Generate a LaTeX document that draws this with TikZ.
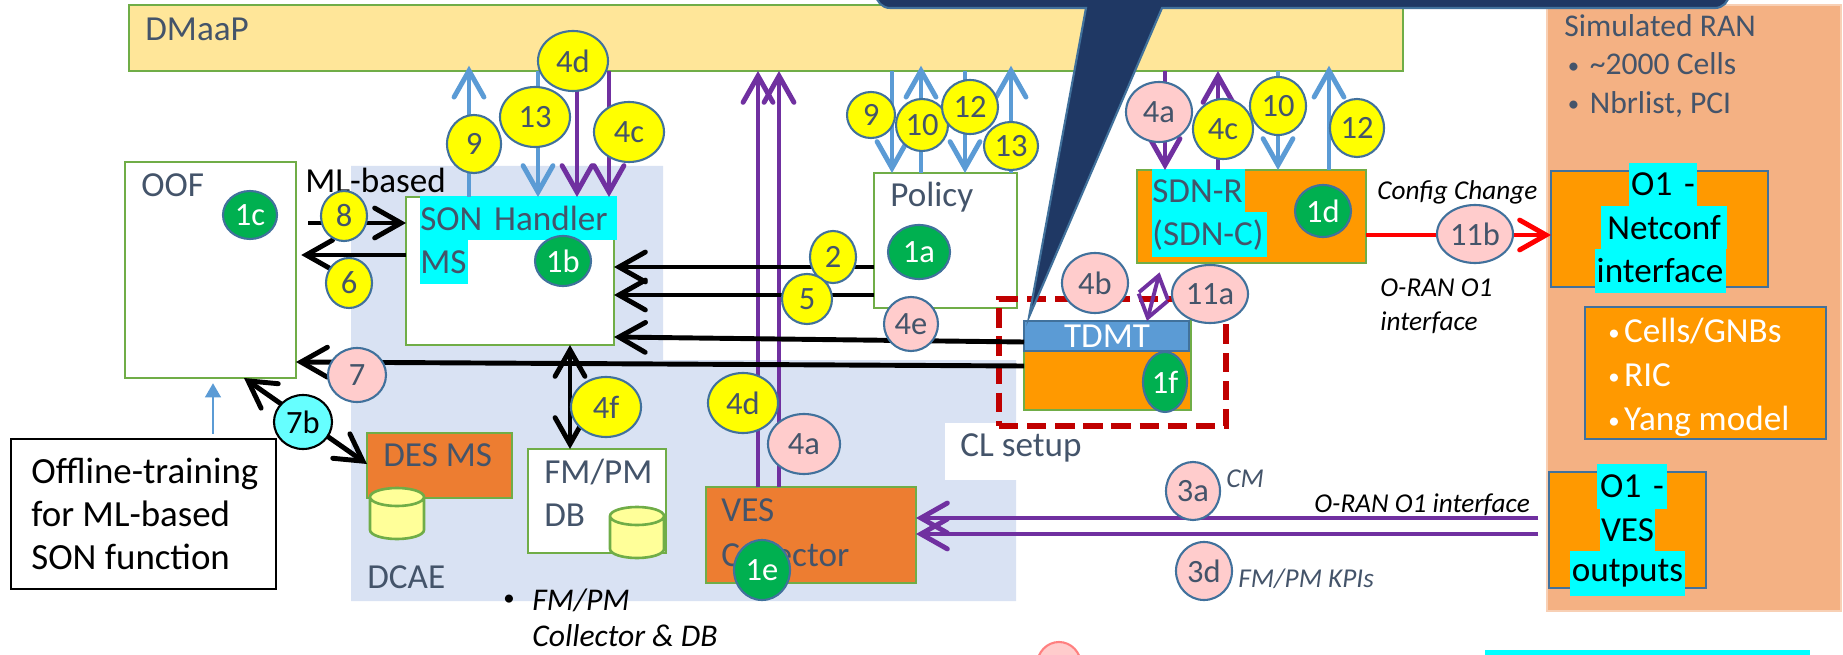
\documentclass[tikz,border=0pt]{standalone}
\usepackage{fontspec}
\setmainfont{Carlito}
\usepackage{xcolor}
\usetikzlibrary{arrows.meta,shapes.geometric,fit}
\definecolor{sonslate}{HTML}{44546A}
\definecolor{sonedge}{HTML}{41719C}
\definecolor{songreen}{HTML}{70AD47}
\definecolor{sonblue}{HTML}{5B9BD5}
\definecolor{sonpurple}{HTML}{7030A0}
\definecolor{sonorange}{HTML}{FF9900}
\definecolor{sonrust}{HTML}{ED7D31}
\definecolor{sonpanel}{HTML}{D9E2F3}
\definecolor{sonpeach}{HTML}{F4B183}
\definecolor{sonsand}{HTML}{FFE699}
\definecolor{sonnavy}{HTML}{1F3864}
\definecolor{sonpink}{HTML}{FFCCCC}
\definecolor{sonok}{HTML}{00B050}
\definecolor{soncyan}{HTML}{00FFFF}
\definecolor{sonaqua}{HTML}{66FFFF}
\definecolor{sonyellow}{HTML}{FFFF00}
\definecolor{soncan}{HTML}{FFFF99}
\definecolor{sonred}{HTML}{FF0000}
\definecolor{sondash}{HTML}{C00000}
\newcommand{\bodyfont}{\fontsize{20}{24.6}\selectfont}
\newcommand{\bubfont}{\fontsize{18.5}{20}\selectfont}
\newcommand{\notefont}{\fontsize{15.5}{18}\itshape\selectfont}
\newcommand{\dotmark}{\raisebox{1pt}{\fontsize{13}{13}\selectfont •}}
\tikzset{
  box/.style={draw=songreen, line width=1.5pt, fill=white, inner sep=0pt, outer sep=0pt},
  orangebox/.style={box, draw=sonedge, fill=sonorange},
  txt/.style={inner sep=0pt, anchor=west, font=\bodyfont, text=sonslate, align=left},
  hl/.style 2 args={fill=soncyan, inner sep=0pt, font=\bodyfont, text width=#1*0.02cm,
    minimum height=#2*0.02cm, align=center},
  note/.style={inner sep=0pt, anchor=west, font=\notefont, align=left},
  bub/.style={ellipse, draw=sonedge, line width=1.2pt, inner sep=0pt, font=\bubfont, text=sonslate},
  yellowbub/.style={bub, fill=sonyellow},
  pinkbub/.style={bub, fill=sonpink},
  greenbub/.style={bub, fill=sonok, text=white},
  can/.style={draw=songreen, line width=1.5pt, fill=soncan},
  flow/.style={line width=2.8pt, -{Straight Barb[length=15pt, width=17pt, line cap=round]}},
  bothflow/.style={line width=2.8pt, {Straight Barb[length=15pt, width=17pt, line cap=round]}-{Straight Barb[length=15pt, width=17pt, line cap=round]}}
}
\begin{document}
\begin{tikzpicture}[x=0.02cm,y=-0.02cm]
\useasboundingbox (0,0) rectangle (1843,655);
\clip (0,0) rectangle (1843,655);
% backgrounds
\fill[sonpanel] (351,166) -- (663,166) -- (663,360) -- (1016,360) -- (1016,601) -- (351,601) -- cycle;
\fill[white] (945,423) rectangle (1020,480);
\node[box, fill=sonsand, fit={(129,5) (1403,71)}] (dmaap) {};
\node[txt] (dmaaptxt) at (145,29) {DMaaP};
\node[box, draw=sonpeach!60!white, fill=sonpeach, fit={(1547,5) (1841,611)}] (simran) {};
\node[txt, anchor=north west, font=\fontsize{18}{22}\selectfont] (simtxt) at (1564,14)
  {Simulated RAN\\\hspace*{2pt}\makebox[12.5pt][l]{\dotmark}\textasciitilde 2000 Cells\\\hspace*{2pt}\makebox[12.5pt][l]{\dotmark}Nbrlist, PCI};
% boxes
\node[box, fit={(125,162) (296,378)}] (oof) {};
\node[txt] (ooftxt) at (141,185) {OOF};
\node[box, fit={(406,197) (614,345)}] (son) {};
\node[hl={197}{44}, anchor=north west, align=left, text=sonslate] (sontxt) at (420,196) {SON Handler};
\node[hl={48}{44}, anchor=north west, align=left, text=sonslate] (mstxt) at (420,240) {MS};
\node[box, fit={(874,173) (1017,308)}] (policy) {};
\node[txt] (policytxt) at (890,197) {Policy};
\node[box, fit={(1137,170) (1366,263)}, fill=sonorange] (sdn) {};
\node[hl={93}{43}, anchor=north west, align=left, text=sonslate] (sdntxt) at (1152,169) {SDN-R};
\node[hl={115}{45}, anchor=north west, align=left, text=sonslate] (sdnctxt) at (1152,212) {(SDN-C)};
\node[box, fit={(1024,321) (1191,410)}, fill=sonorange] (tdmt) {};
\node[box, draw=sonedge, fill=sonblue, fit={(1024,321) (1189,351)}] (tdmthead) {};
\node[txt, anchor=center, text=white] (tdmttxt) at (1107,336) {TDMT};
\node[box, dashed, draw=sondash, line width=3pt, fill=none, dash pattern=on 11pt off 5pt, fit={(999,299) (1226,426)}] (clbox) {};
\node[txt] (cltxt) at (960,448) {CL setup};
\node[box, fill=sonrust, fit={(367,433) (512,498)}] (desms) {};
\node[txt] (destxt) at (383,455) {DES MS};
\node[box, fit={(528,449) (666,553)}] (fmpm) {};
\node[txt] (fmpmtxt) at (544,493) {FM/PM\\DB};
% database cans
\foreach \cx/\cy in {397/497,637/516}
  \draw[can] (\cx-27,\cy) -- (\cx-27,\cy+33)
    arc[start angle=180, end angle=360, x radius=0.54cm, y radius=0.18cm] -- (\cx+27,\cy)
    arc[start angle=0, end angle=180, x radius=0.54cm, y radius=0.18cm]
    arc[start angle=180, end angle=360, x radius=0.54cm, y radius=0.18cm];
\node[txt] (dcaetxt) at (367,577) {DCAE};
\node[box, fill=sonrust, fit={(706,487) (916,583)}] (ves) {};
\node[txt] (vestxt) at (721,533) {VES\\[1.2pt]Collector};
\node[draw, thick, fill=white, inner sep=0pt, outer sep=0pt, fit={(11,439) (276,589)}] (offline) {};
\node[txt, text=black, font=\fontsize{21}{24.6}\selectfont] (offlinetxt) at (31,514) {Offline-training\\for ML-based\\SON function};
\node[txt, text=black] (mltxt) at (305,180) {ML-based};
\node[note, font=\fontsize{18}{20}\itshape\selectfont, anchor=north west] (fmnote) at (532,589) {FM/PM\\Collector \& DB};
\node[inner sep=0pt] (fmdot) at (509,601) {\dotmark};
\node[orangebox, fit={(1551,171) (1768,287)}] (netconf) {};
\node[hl={68}{43}] (ncone) at (1663,184.5) {O1 -};
\node[hl={126}{43}] (nctwo) at (1664,227.5) {Netconf};
\node[hl={131}{44}] (ncthree) at (1660,271) {interface};
\node[orangebox, fit={(1585,307) (1826,439)}] (cells) {};
\node[txt, text=white, anchor=north west, font=\fontsize{20}{25}\selectfont] (cellstxt) at (1608,318)
  {\makebox[9pt][l]{\dotmark}Cells/GNBs\\\makebox[9pt][l]{\dotmark}RIC\\\makebox[9pt][l]{\dotmark}Yang model};
\node[orangebox, fit={(1549,472) (1706,588)}] (o1ves) {};
\node[hl={70}{45}] (vone) at (1632,486.5) {O1 -};
\node[hl={55}{42}] (vtwo) at (1627.5,530) {VES};
\node[hl={115}{45}] (vthree) at (1627.5,573.5) {outputs};
\fill[soncyan] (1485,650) rectangle (1810,655);
\node[note] (cfgtxt) at (1377,192) {Config Change};
\node[note] (o1note) at (1380,306) {O-RAN O1\\[1.2pt]interface};
\node[note] (o1line) at (1314,505) {O-RAN O1 interface};
\node[note, text=sonslate] (cmtxt) at (1226,479) {CM};
\node[note, text=sonslate] (kpitxt) at (1238,579) {FM/PM KPIs};
% connectors
\foreach \x/\from/\to in {469/son/dmaap,921/policy/dmaap,1011/policy/dmaap,1329/sdn/dmaap}
  \draw[flow, sonblue, shorten >=-3pt] (\x,0 |- \from.north) -- (\x,0 |- \to.south);
\foreach \x/\to in {538/son,892/policy,965/policy,1278/sdn}
  \draw[flow, sonblue] (\x,0 |- dmaap.south) -- (\x,0 |- \to.north);
\foreach \x/\to in {577/son,609/son,1165/sdn}
  \draw[flow, sonpurple] (\x,0 |- dmaap.south) -- (\x,0 |- \to.north);
\foreach \x in {758,779}
  \draw[flow, sonpurple] (\x,0 |- ves.north) -- (\x,0 |- dmaap.south);
\draw[flow, sonpurple] (1218,0 |- sdn.north) -- (1218,0 |- dmaap.south);
\coordinate (mlstart) at (308,223);
\draw[flow] (mlstart) -- (mlstart -| son.west);
\draw[flow, shorten >=3pt] (son.west |- 0,255) -- (oof.east |- 0,255);
\draw[flow] (policy.west |- 0,267) -- (son.east |- 0,267);
\draw[flow] (policy.west |- 0,295) -- (son.east |- 0,295);
\draw[flow] (tdmt.west |- 0,342) -- (son.east |- 0,337);
\draw[flow] (tdmt.west |- 0,366) -- (oof.east |- 0,362);
\draw[bothflow] (570,0 |- son.south) -- (570,0 |- fmpm.north);
\draw[bothflow] (244,0 |- oof.south) -- (desms.west |- 0,464);
\draw[sonblue, line width=1pt, -{Triangle[length=8pt, width=9pt]}, shorten <=3pt, shorten >=3pt]
  (213,0 |- offline.north) -- (213,0 |- oof.south);
\draw[flow, sonpurple, shorten <=6pt] (o1ves.west |- 0,518) -- (ves.east |- 0,518);
\draw[flow, sonpurple, shorten <=6pt] (o1ves.west |- 0,534) -- (ves.east |- 0,534);
\draw[flow, sonred] (sdn.east |- 0,235) -- (netconf.west |- 0,235);
\draw[sonpurple, line width=2.2pt, {Straight Barb[length=12pt, width=17pt]}-{Straight Barb[length=12pt, width=17pt]}, shorten >=5.5pt]
  (1147,0 |- tdmt.north) -- (1162,0 |- sdn.south);
% callout
\draw[sonedge, fill=sonnavy, line width=1.2pt] (876,-40) [rounded corners=8pt] -- (876,8) [sharp corners] -- (1086,8)
  -- (1029,317) -- (1162,8) [rounded corners=8pt] -- (1729,8) -- (1729,-40) [sharp corners] -- cycle;
% numbered bubbles
\foreach \nm/\x/\y/\rx/\ry/\lab in {
  nine/474/144/27/29/9, thirteen/535/117/35/30/13, fourd/573/61/35/30/4d, fourc/629/132/35/30/4c,
  eight/344/216/23/25/8, six/349/283/23/25/6, two/833/257/23/26/2, five/807/299/25/25/5,
  fourf/606/407/35/30/4f, fourdves/743/403/35/30/4d, ninep/871/115/24/23/9, tenp/922/125/26/26/10,
  twelvep/970/107/28/27/12, thirteenp/1011/146/27/24/13, fourcs/1223/129/30/30/4c, tens/1278/106/28/29/10,
  twelves/1357/128/27/29/12}
  \node[yellowbub, minimum width=2*\rx*0.02cm, minimum height=2*\ry*0.02cm] (bub\nm) at (\x,\y) {\lab};
\foreach \nm/\x/\y/\rx/\ry/\lab in {
  seven/357/375/29/27/7, foure/911/324/27/27/4e, fouraves/804/444/36/30/4a, foura/1159/112/33/30/4a,
  fourb/1095/283/33/30/4b, elevena/1210/294/38/29/11a, elevenb/1475/234/38/29/11b,
  threea/1193/491/27/29/3a, threed/1204/571/28/29/3d}
  \node[pinkbub, minimum width=2*\rx*0.02cm, minimum height=2*\ry*0.02cm] (bub\nm) at (\x,\y) {\lab};
\foreach \nm/\x/\y/\rx/\ry/\lab in {
  onea/919/252/31/27/1a, oneb/563/261/28/25/1b, onec/250/215/27/24/1c, oned/1323/211/28/26/1d,
  onee/762/570/28/30/1e, onef/1165/382/22/30/1f}
  \node[greenbub, minimum width=2*\rx*0.02cm, minimum height=2*\ry*0.02cm] (bub\nm) at (\x,\y) {\lab};
\node[bub, draw=black, fill=sonaqua, text=black, minimum width=58*0.02cm, minimum height=54*0.02cm] (bubsevenb) at (303,422) {7b};
\node[pinkbub, draw=red!50!white, minimum width=44*0.02cm, minimum height=46*0.02cm] (bubcut) at (1059,665) {};
\end{tikzpicture}
\end{document}
